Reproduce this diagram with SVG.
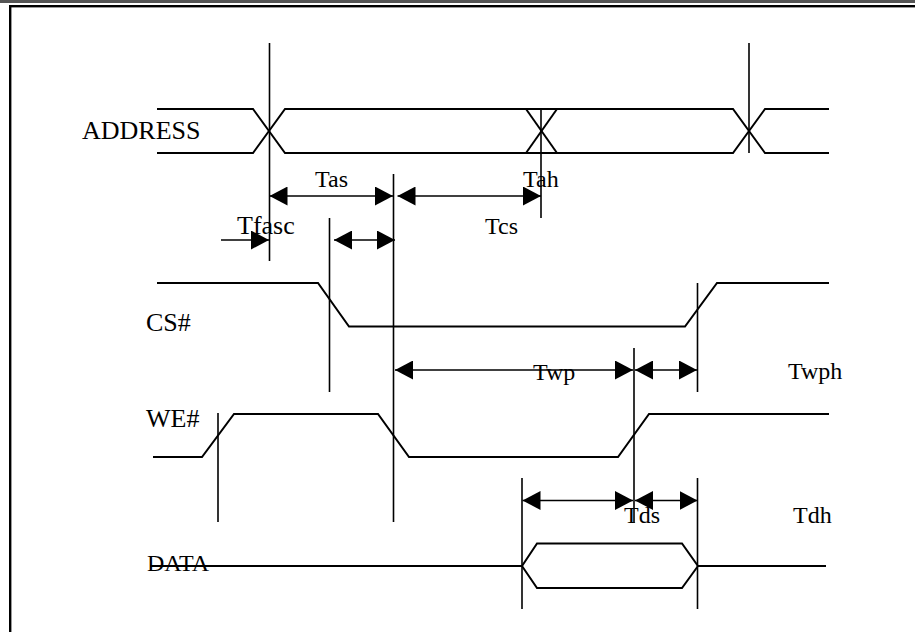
<svg xmlns="http://www.w3.org/2000/svg" width="915" height="632" viewBox="0 0 915 632">
<style>
.sig{fill:none;stroke:#000;stroke-width:2;stroke-linejoin:miter}
.vl{stroke:#000;stroke-width:1.6}
.arr{stroke:#000;stroke-width:1.6;fill:none;marker-end:url(#ah)}
.both{marker-start:url(#ah)}
.lbl{font-family:"Liberation Serif","Times New Roman",serif;font-size:26px;fill:#000}
.tl{font-family:"Liberation Serif","Times New Roman",serif;font-size:24px;fill:#000}
</style>
<defs>
<marker id="ah" markerUnits="userSpaceOnUse" markerWidth="18" markerHeight="19" refX="18" refY="9.5" orient="auto-start-reverse" viewBox="0 0 18 19">
<path d="M0,0 L18,9.5 L0,19 z" fill="#000"/>
</marker>
</defs>
<rect x="0" y="0" width="915" height="632" fill="#fff"/>
<g id="frame">
<rect x="0" y="0" width="915" height="3" fill="#555"/>
<rect x="9" y="5" width="906" height="2.4" fill="#000"/>
<rect x="9" y="5" width="2.4" height="627" fill="#000"/>
</g>
<g id="address">
<text class="lbl" x="82" y="139">ADDRESS</text>
<polyline class="sig" points="157,109 253,109 285,153 733,153 765,109 829,109"/>
<polyline class="sig" points="157,153 253,153 285,109 733,109 765,153 829,153"/>
<line class="sig" x1="526" y1="109" x2="557" y2="153"/>
<line class="sig" x1="526" y1="153" x2="557" y2="109"/>
</g>
<g id="cs">
<text class="lbl" x="146" y="331">CS#</text>
<polyline class="sig" points="157,283 318,283 349,326.5 685,326.5 717,283 829,283"/>
</g>
<g id="we">
<text class="lbl" x="146" y="427">WE#</text>
<polyline class="sig" points="153,457 202,457 234,414 378,414 409,457 618,457 649,414 829,414"/>
</g>
<g id="data">
<text class="tl" x="147" y="571">DATA</text>
<polyline class="sig" points="150,566 522,566 537,543.5 682,543.5 698,566 826,566"/>
<polyline class="sig" points="522,566 537,588 682,588 698,566"/>
</g>
<g id="guides">
<line class="vl" x1="269.5" y1="43" x2="269.5" y2="261"/>
<line class="vl" x1="541" y1="108" x2="541" y2="218"/>
<line class="vl" x1="749" y1="43" x2="749" y2="153"/>
<line class="vl" x1="393.5" y1="174" x2="393.5" y2="522"/>
<line class="vl" x1="329.5" y1="218" x2="329.5" y2="392"/>
<line class="vl" x1="697.5" y1="283" x2="697.5" y2="392"/>
<line class="vl" x1="634" y1="348" x2="634" y2="523"/>
<line class="vl" x1="218" y1="413" x2="218" y2="522"/>
<line class="vl" x1="522" y1="478" x2="522" y2="609"/>
<line class="vl" x1="697.5" y1="478" x2="697.5" y2="609"/>
</g>
<g id="connectors">
<line class="arr both" x1="269.5" y1="196" x2="393" y2="196"/>
<line class="arr both" x1="397.5" y1="196" x2="541" y2="196"/>
<line class="arr" x1="221" y1="240" x2="269" y2="240"/>
<line class="arr both" x1="334" y1="240" x2="395" y2="240"/>
<line class="arr both" x1="395" y1="370" x2="633" y2="370"/>
<line class="arr both" x1="635" y1="370" x2="697" y2="370"/>
<line class="arr both" x1="522.5" y1="500.5" x2="633" y2="500.5"/>
<line class="arr both" x1="635" y1="500.5" x2="697.5" y2="500.5"/>
</g>
<g id="labels">
<text class="tl" x="315" y="187">Tas</text>
<text class="tl" x="523" y="187">Tah</text>
<text class="tl" x="485" y="234">Tcs</text>
<text class="tl" x="237" y="234" style="font-size:26px">Tfasc</text>
<text class="tl" x="533" y="380">Twp</text>
<text class="tl" x="788" y="379">Twph</text>
<text class="tl" x="624" y="523">Tds</text>
<text class="tl" x="793" y="523">Tdh</text>
</g>
</svg>
